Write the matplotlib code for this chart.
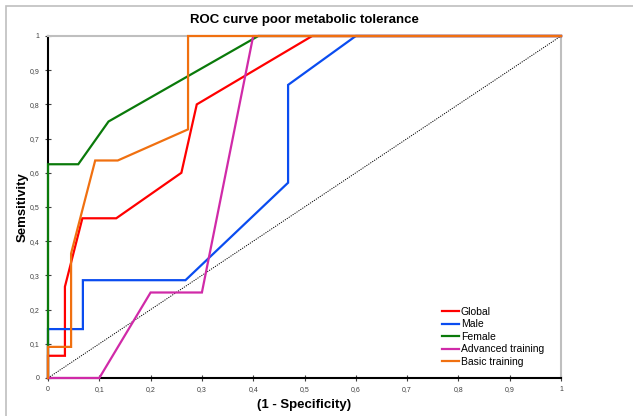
#ROC curve recreation
import numpy as np
import matplotlib
matplotlib.use("Agg")
import matplotlib.pyplot as plt
from matplotlib.patches import Rectangle

#DATA
global_x = [0, 0, 0.033, 0.033, 0.067, 0.133, 0.26, 0.29, 0.515, 1]
global_y = [0, 0.065, 0.065, 0.267, 0.467, 0.467, 0.6, 0.8, 1, 1]
male_x = [0, 0, 0.068, 0.068, 0.268, 0.468, 0.468, 0.6, 1]
male_y = [0, 0.143, 0.143, 0.286, 0.286, 0.571, 0.857, 1, 1]
female_x = [0, 0, 0.059, 0.118, 0.41, 1]
female_y = [0, 0.625, 0.625, 0.75, 1, 1]
adv_x = [0, 0.1, 0.2, 0.3, 0.4, 1]
adv_y = [0, 0, 0.25, 0.25, 1, 1]
basic_x = [0, 0, 0.045, 0.045, 0.092, 0.136, 0.273, 0.273, 1]
basic_y = [0, 0.091, 0.091, 0.364, 0.636, 0.636, 0.727, 1, 1]

series = [("Global", global_x, global_y, "#ff0000"),
          ("Male", male_x, male_y, "#0a4cf0"),
          ("Female", female_x, female_y, "#0a7a0a"),
          ("Advanced training", adv_x, adv_y, "#d02aa8"),
          ("Basic training", basic_x, basic_y, "#f07010")]

ticks = np.round(np.arange(0, 1.01, 0.1), 1)
tick_labels = ["0" if t == 0 else ("1" if t == 1 else str(t).replace(".", ",")) for t in ticks]

plt.rcParams['font.family'] = ['Liberation Sans', 'DejaVu Sans']

fig = plt.figure(figsize=(6.33, 4.16), dpi=100)
ax = fig.add_axes([48/633, 1-378/416, 513/633, 342/416])

#outer chart border (only top and left visible)
fig.patches.append(Rectangle((6/633, -0.1), 1.2, 1 - 6/416 + 0.1, transform=fig.transFigure,
                             fill=False, edgecolor="#bfbfbf", linewidth=1.2))

ax.plot([0, 1], [0, 1], color="black", linestyle=(0, (1.2, 1.2)), linewidth=0.7)
for name, xs, ys, col in series:
    ax.plot(xs, ys, color=col, linewidth=1.6, label=name, solid_joinstyle="miter",
            clip_on=False, zorder=3)

ax.set_xlim(0, 1)
ax.set_ylim(0, 1)
ax.set_xticks(ticks)
ax.set_xticklabels(tick_labels)
ax.set_yticks(ticks)
ax.set_yticklabels(tick_labels)
ax.tick_params(direction="inout", length=4, width=0.8, labelsize=5, colors="#404040", pad=4)

for side in ["top", "right"]:
    ax.spines[side].set_color("#bfbfbf")
    ax.spines[side].set_linewidth(1.5)
for side in ["left", "bottom"]:
    ax.spines[side].set_color("black")
    ax.spines[side].set_linewidth(1.5)
for sp in ax.spines.values():
    sp.set_zorder(2)

ax.set_title("ROC curve poor metabolic tolerance", fontsize=9.5, fontweight="bold", pad=9.5)
ax.set_xlabel("(1 - Specificity)", fontsize=9.5, fontweight="bold", labelpad=4)
ax.set_ylabel("Semsitivity", fontsize=9.5, fontweight="bold")
ax.yaxis.set_label_coords(-0.037, 0.5)

leg = ax.legend(loc="lower left", bbox_to_anchor=(0.758, 0.017), frameon=False, fontsize=7.5,
                handlelength=1.6, handletextpad=0.2, labelspacing=0.25, borderpad=0)

fig.savefig("out.png", dpi=100)
